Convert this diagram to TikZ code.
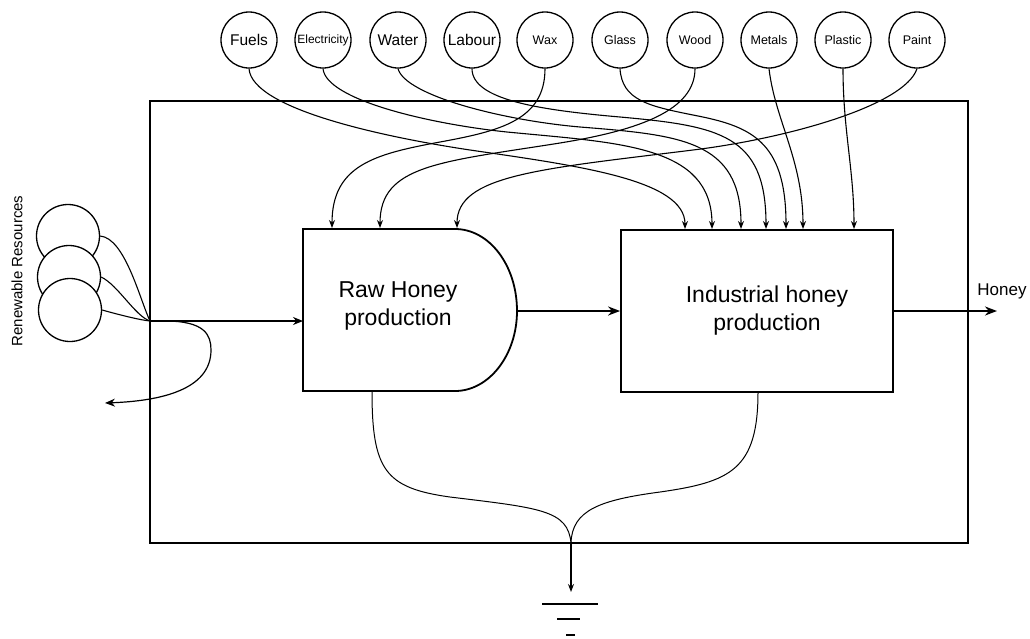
\documentclass[tikz,border=0pt]{standalone}
\usepackage{fontspec}
\setmainfont{Liberation Sans}
\usetikzlibrary{arrows.meta}
\begin{document}
\begin{tikzpicture}[x=1pt,y=-1pt,
    res/.style={circle,draw,line width=1.3pt,minimum size=56pt,inner sep=0pt,font=\fontsize{12.5}{14}\selectfont},
    big/.style={font=\fontsize{15.5}{17}\selectfont},
    flow/.style={line width=1.1pt,-{Stealth[length=8pt,width=6pt]}},
    main/.style={line width=2pt,-{Stealth[length=12pt,width=9pt]}},
    lbl/.style={align=center,font=\fontsize{23}{28}\selectfont}]
\useasboundingbox(0,0)rectangle(1030,638);
% inputs
\node[res,big](fuels)at(249,40){Fuels};
\node[res,font=\fontsize{12}{14}\selectfont](elec)at(323,40){Electricity};
\node[res,big](water)at(398,40){Water};
\node[res,big](labour)at(472,40){Labour};
\node[res](wax)at(545,40){Wax};
\node[res](glass)at(620,40){Glass};
\node[res](wood)at(695,40){Wood};
\node[res](metals)at(769,40){Metals};
\node[res](plastic)at(843,40){Plastic};
\node[res](paint)at(917,40){Paint};
% system
\draw[line width=2.8pt](150,101)rectangle(968,543);
\draw[line width=1.8pt](303,229)--(455,229)..controls(489,229)and(517,265)..(517,311)
    ..controls(517,355)and(489,391)..(455,391)--(303,391)--cycle;
\node[lbl](raw)at(398,306){Raw Honey\\production};
\coordinate(rawE)at(517,311);\coordinate(rawW)at(303,321);\coordinate(rawS)at(372,391);
\coordinate(r1)at(332,228);\coordinate(r2)at(380,228);\coordinate(r3)at(457,228);
\node[draw,line width=1.8pt,minimum width=272pt,minimum height=162pt,inner sep=0pt](ind)at(757,311){};
\node[lbl](indtxt)at(767,311){Industrial honey\\production};
\coordinate(indS)at(758,392);
\coordinate(i1)at(685,229);\coordinate(i2)at(712,229);\coordinate(i3)at(741,229);
\coordinate(i4)at(766,229);\coordinate(i5)at(786,229);\coordinate(i6)at(803,229);
\coordinate(i7)at(854,229);
% flows into the industrial step
\draw[flow](fuels.south)..controls(252,110)and(390,138)..(470,150)..controls(580,166)and(685,180)..(i1);
\draw[flow](elec.south)..controls(326,100)and(430,124)..(507,132)..controls(620,143)and(712,145)..(i2);
\draw[flow](water.south)..controls(405,95)and(500,120)..(580,127)..controls(680,135)and(741,140)..(i3);
\draw[flow](labour.south)..controls(472,100)and(540,110)..(620,117)..controls(720,126)and(766,135)..(i4);
\draw[flow](glass.south)..controls(622,100)and(648,106)..(693,115)..controls(750,126)and(786,140)..(i5);
\draw[flow](metals.south)..controls(775,120)and(803,160)..(i6);
\draw[flow](plastic.south)..controls(843,130)and(854,170)..(i7);
% flows into the raw step
\draw[flow](wax.south)..controls(545,120)and(500,131)..(440,142)..controls(375,154)and(332,165)..(r1);
\draw[flow](wood.south)..controls(695,110)and(640,130)..(560,143)..controls(440,162)and(380,165)..(r2);
\draw[flow](paint.south)..controls(905,105)and(790,138)..(693,150)..controls(540,169)and(457,175)..(r3);
% renewable resources
\node[circle,draw,fill=white,line width=1.3pt,minimum size=63pt,inner sep=0pt](rr1)at(68,236){};
\node[circle,draw,fill=white,line width=1.3pt,minimum size=63pt,inner sep=0pt](rr2)at(69,277){};
\node[circle,draw,fill=white,line width=1.3pt,minimum size=63pt,inner sep=0pt](rr3)at(70,310){};
\node[rotate=90,font=\fontsize{15}{17}\selectfont](rrtxt)at(17,271){Renewable Resources};
\coordinate(junc)at(150,321);\coordinate(lost)at(105,403);
\draw[line width=1.1pt](rr1.east)..controls(125,238)and(140,300)..(junc);
\draw[line width=1.1pt](rr2.east)..controls(118,285)and(135,316)..(junc);
\draw[line width=1.1pt](rr3.east)..controls(120,315)and(140,320)..(junc);
\draw[line width=1.4pt,-{Stealth[length=10pt,width=8pt]}](junc)--(rawW);
\draw[line width=1.2pt,-{Stealth[length=10pt,width=8pt]}](junc)--(165,321)..controls(205,321)and(211,335)..(211,350)
    ..controls(211,390)and(160,401)..(lost);
% outputs
\draw[main](rawE)--(ind.west);
\coordinate(honey)at(997,311);
\draw[main](ind.east)--(honey);
\node[font=\fontsize{17}{19}\selectfont](honeytxt)at(1002,291){Honey};
% losses
\coordinate(sink)at(571,543);\coordinate(gnd)at(571,592);
\draw[line width=1pt](rawS)..controls(372,470)and(385,488)..(450,497)..controls(540,508)and(568,510)..(sink);
\draw[line width=1pt](indS)..controls(758,470)and(730,482)..(660,492)..controls(600,500)and(572,510)..(sink);
\draw[flow](sink)--(gnd);
\draw[line width=1.5pt](542,604)--(598,604)(557,619)--(580,619);
\draw[line width=2.5pt](566,635)--(575,635);
\end{tikzpicture}
\end{document}
